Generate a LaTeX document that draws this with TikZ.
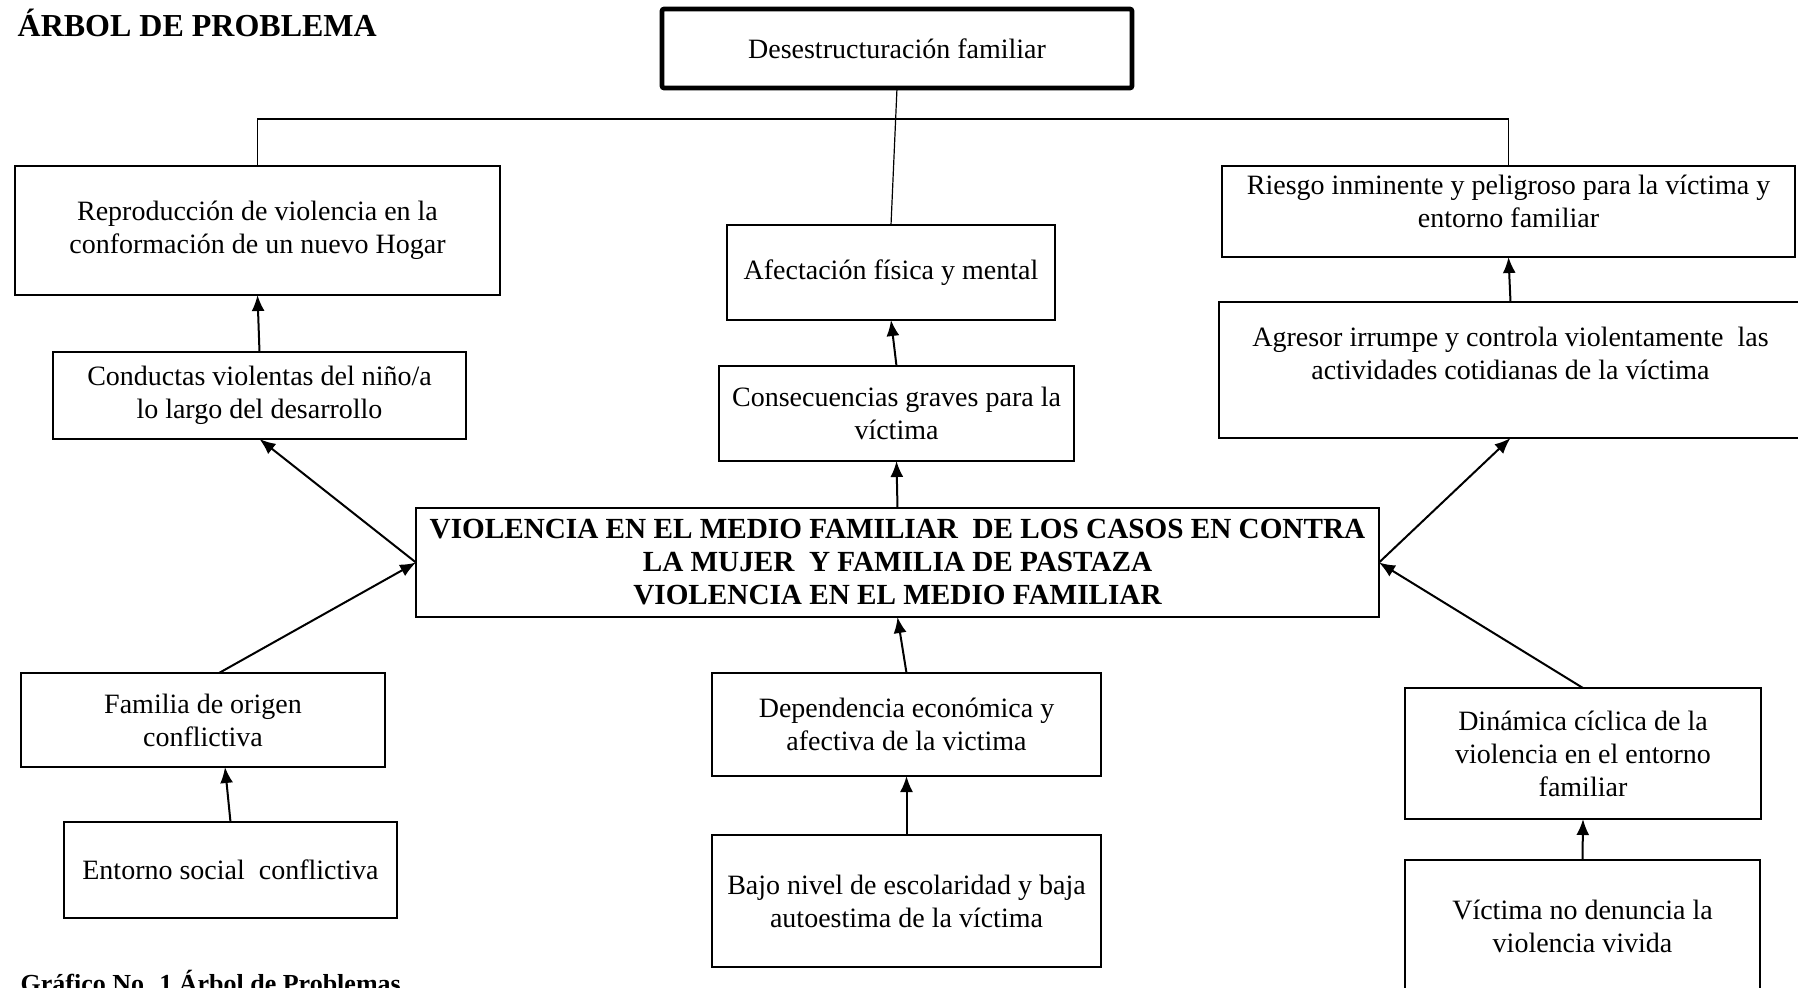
\documentclass[tikz,border=0pt]{standalone}
\usepackage{fontspec}
\setmainfont{Liberation Serif}
\usetikzlibrary{arrows.meta}

\begin{document}
\begin{tikzpicture}[x=0.5pt, y=-0.5pt,
  every node/.style={outer sep=0pt, font=\fontsize{14}{16.5}\selectfont},
  caja/.style={draw, line width=1pt, align=center, inner sep=3pt},
  flecha/.style={line width=1pt, -{Latex[length=8pt,width=6.5pt]}},
  rama/.style={line width=0.6pt}]
\useasboundingbox (0,0) rectangle (1798,987);

\node[anchor=base west, font=\fontsize{16}{19}\bfseries] (titulo) at (11,36) {ÁRBOL DE PROBLEMA};
\node[anchor=base west, font=\fontsize{13}{15}\bfseries] (grafico) at (14,992) {Gráfico No. 1 Árbol de Problemas};

\node[caja, line width=2.3pt, rounded corners=1pt, minimum width=235pt, minimum height=39.5pt] (desestructuracion) at (897,48.5) {Desestructuración familiar};

\node[caja, minimum width=242.5pt, minimum height=64.5pt] (reproduccion) at (257.5,230.5) {Reproducción de violencia en la\\conformación de un nuevo Hogar};
\node[caja, minimum width=206.5pt, minimum height=43.5pt] (conductas) at (259.5,395.5) {Conductas violentas del niño/a\\lo largo del desarrollo};
\node[caja, minimum width=164pt, minimum height=47.5pt] (afectacion) at (891,272.5) {Afectación física y mental};
\node[caja, minimum width=177.5pt, minimum height=47.5pt] (consecuencias) at (896.5,413.5) {Consecuencias graves para la\\víctima};
\node[caja, anchor=north, minimum width=286.5pt, text height=26.5pt, text depth=11pt, inner ysep=4pt] (riesgo) at (1508.5,166) {Riesgo inminente y peligroso para la víctima y\\entorno familiar};
\node[caja, anchor=north, minimum width=291.5pt, text height=34.5pt, text depth=25.5pt, inner ysep=4pt] (agresor) at (1510.5,302) {Agresor irrumpe y controla violentamente\ \ las\\actividades cotidianas de la víctima};

\node[caja, font=\fontsize{14.6}{16.5}\bfseries, minimum width=481.5pt, minimum height=54.5pt] (central) at (897.5,562.5) {VIOLENCIA EN EL MEDIO FAMILIAR\ \ DE LOS CASOS EN CONTRA\\LA MUJER\ \ Y FAMILIA DE PASTAZA\\VIOLENCIA EN EL MEDIO FAMILIAR};

\node[caja, minimum width=182pt, minimum height=47pt] (familia) at (203,720) {Familia de origen\\conflictiva};
\node[caja, minimum width=166.5pt, minimum height=48pt] (entorno) at (230.5,870) {Entorno social\ \ conflictiva};
\node[caja, minimum width=194.5pt, minimum height=51.5pt] (dependencia) at (906.5,724.5) {Dependencia económica y\\afectiva de la victima};
\node[caja, minimum width=194.5pt, minimum height=66pt] (bajo) at (906.5,901) {Bajo nivel de escolaridad y baja\\autoestima de la víctima};
\node[caja, minimum width=178pt, minimum height=65.5pt] (dinamica) at (1583,753.5) {Dinámica cíclica de la\\violencia en el entorno\\familiar};
\node[caja, anchor=north, minimum width=177.5pt, text height=42pt, text depth=19pt, inner ysep=4pt] (victima) at (1582.5,860) {Víctima no denuncia la\\violencia vivida};

\draw[rama] (reproduccion.north) -- ++(0,-47) -| (riesgo.north);
\draw[rama] (desestructuracion.south) -- (afectacion.north);

\draw[flecha] (conductas.north) -- (reproduccion.south);
\draw[flecha] (central.west) -- (conductas.south);
\draw[flecha] ([xshift=8pt]familia.north) -- (central.west);
\draw[flecha] (entorno.north) -- ([xshift=11pt]familia.south);
\draw[flecha] (consecuencias.north) -- (afectacion.south);
\draw[flecha] (central.north) -- (consecuencias.south);
\draw[flecha] (dependencia.north) -- (central.south);
\draw[flecha] (bajo.north) -- (dependencia.south);
\draw[flecha] (central.east) -- (agresor.south);
\draw[flecha] (agresor.north) -- (riesgo.south);
\draw[flecha] (dinamica.north) -- (central.east);
\draw[flecha] (victima.north) -- (dinamica.south);
\end{tikzpicture}
\end{document}
